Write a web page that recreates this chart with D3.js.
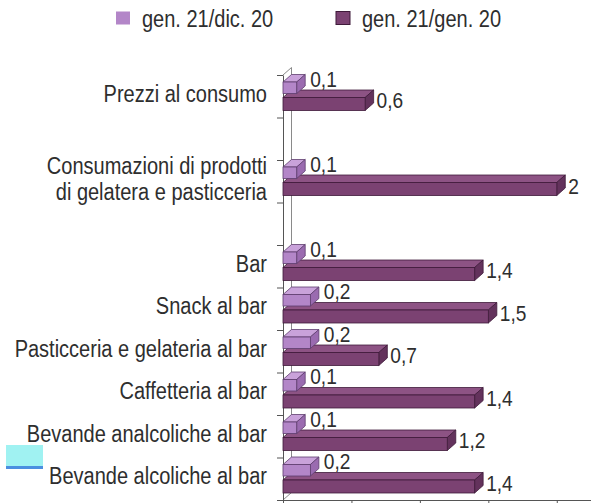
<!DOCTYPE html>
<html>
<head>
<meta charset="utf-8">
<script src="https://cdn.jsdelivr.net/npm/d3@7"></script>
<style>
  body { margin: 0; background: #fff; }
  svg { display: block; font-family: "Liberation Sans", Arial, sans-serif; }
</style>
</head>
<body>
<div id="chart"></div>
<script>
// Categories (blank entries are the empty rows of the original chart)
const categories = [
  "Prezzi al consumo",
  "",
  "Consumazioni di prodotti|di gelatera e pasticceria",
  "",
  "Bar",
  "Snack al bar",
  "Pasticceria e gelateria al bar",
  "Caffetteria al bar",
  "Bevande analcoliche al bar",
  "Bevande alcoliche al bar"
];
const seriesNames = ["gen. 21/dic. 20", "gen. 21/gen. 20"];
const monthlyChange = [0.1, null, 0.1, null, 0.1, 0.2, 0.2, 0.1, 0.1, 0.2];
const yearlyChange = [0.6, null, 2, null, 1.4, 1.5, 0.7, 1.4, 1.2, 1.4];
const xTicks = [0, 0.5, 1, 1.5, 2];

const width = 591, height = 503;
const depth = { dx: 8.5, dy: 7.5 };
const light = { front: "#b386c8", top: "#c9a2da", side: "#9a6bb0", line: "#5e3d6e" };
const dark = { front: "#7b4272", top: "#8d5384", side: "#63325c", line: "#3f1a3a" };
const squeeze = 0.87; // the original type is a condensed face

const itFormat = d3.formatLocale({ decimal: ",", thousands: ".", grouping: [3], currency: ["", "€"] }).format("~g");

const svg = d3.select("#chart").append("svg")
  .attr("width", width)
  .attr("height", height);

// condensed text helper: squeeze horizontally, keep the anchor where asked
function label(g, xPos, yPos, txt) {
  return g.append("text")
    .attr("transform", `scale(${squeeze},1)`)
    .attr("x", xPos / squeeze)
    .attr("y", yPos)
    .attr("dominant-baseline", "central")
    .text(txt);
}

// stray cyan patch at the left edge of the original image
svg.append("rect").attr("x", 6).attr("y", 445).attr("width", 37).attr("height", 21).attr("fill", "#a0f2f2");
svg.append("rect").attr("x", 6).attr("y", 466).attr("width", 37).attr("height", 3).attr("fill", "#4a8fe0");

const x = d3.scaleLinear().domain([0, 2.25]).range([283, 591]);
const y = d3.scaleBand().domain(d3.range(categories.length)).range([75, 500]);
const yEdge = d3.scaleLinear().domain([0, categories.length]).range([75, 500]);

// back wall of the 3D frame
const wall = svg.append("g").attr("stroke", "#8a8a8a").attr("fill", "none").attr("stroke-width", 1);
wall.append("line")
  .attr("x1", x(0) + depth.dx).attr("x2", x(0) + depth.dx)
  .attr("y1", yEdge(0) - depth.dy).attr("y2", yEdge(categories.length) - depth.dy);
wall.append("line")
  .attr("x1", x(0)).attr("y1", yEdge(0))
  .attr("x2", x(0) + depth.dx).attr("y2", yEdge(0) - depth.dy);
wall.append("line")
  .attr("x1", x(0)).attr("y1", yEdge(categories.length))
  .attr("x2", x(0) + depth.dx).attr("y2", yEdge(categories.length) - depth.dy);

// axes
const xAxis = svg.append("g")
  .attr("transform", `translate(0,${yEdge(categories.length)})`)
  .call(d3.axisBottom(x).tickValues(xTicks).tickFormat("").tickSize(7).tickSizeOuter(0));
const yAxis = svg.append("g")
  .attr("transform", `translate(${x(0)},0)`)
  .call(d3.axisLeft(yEdge).tickValues(d3.range(categories.length + 1)).tickFormat("").tickSize(6).tickSizeOuter(0));
[xAxis, yAxis].forEach(a => {
  a.select(".domain").attr("stroke", "#555");
  a.selectAll(".tick line").attr("stroke", "#555");
});

function bar3d(g, v, yTop, h, c) {
  const x0 = x(0), x1 = x(v);
  const { dx, dy } = depth;
  g.append("polygon")
    .attr("points", [[x0, yTop], [x0 + dx, yTop - dy], [x1 + dx, yTop - dy], [x1, yTop]].join(" "))
    .attr("fill", c.top).attr("stroke", c.line).attr("stroke-width", 0.8);
  g.append("polygon")
    .attr("points", [[x1, yTop], [x1 + dx, yTop - dy], [x1 + dx, yTop + h - dy], [x1, yTop + h]].join(" "))
    .attr("fill", c.side).attr("stroke", c.line).attr("stroke-width", 0.8);
  g.append("rect")
    .attr("x", x0).attr("y", yTop)
    .attr("width", x1 - x0).attr("height", h)
    .attr("fill", c.front).attr("stroke", c.line).attr("stroke-width", 0.8);
}

const bars = svg.append("g");
const values = svg.append("g").attr("fill", "#2e2e2e").attr("font-size", 22);

categories.forEach((cat, i) => {
  if (yearlyChange[i] == null) return;
  const b = y(i);
  // darker series first, lighter drawn on top
  bar3d(bars, yearlyChange[i], b + 22.5, 13, dark);
  bar3d(bars, monthlyChange[i], b + 7, 11.5, light);

  label(values, x(monthlyChange[i]) + depth.dx + 5, b + 4, itFormat(monthlyChange[i]));
  label(values, x(yearlyChange[i]) + depth.dx + 3, b + 25.5, itFormat(yearlyChange[i]));
});

// category labels
const catLabels = svg.append("g")
  .attr("fill", "#2e2e2e")
  .attr("font-size", 23)
  .attr("text-anchor", "end");
categories.forEach((cat, i) => {
  if (!cat) return;
  const lines = cat.split("|");
  const cy = y(i) + y.bandwidth() / 2 - 2.5;
  lines.forEach((ln, k) => {
    label(catLabels, 267, cy + (k - (lines.length - 1) / 2) * 26, ln);
  });
});

// legend
const legend = svg.append("g").attr("font-size", 23).attr("fill", "#2e2e2e");
const legendX = [116, 336];
[light, dark].forEach((c, i) => {
  legend.append("rect")
    .attr("x", legendX[i]).attr("y", 11.5)
    .attr("width", 14).attr("height", 13)
    .attr("fill", c.front)
    .attr("stroke", i === 1 ? c.line : "none");
  label(legend, legendX[i] + 26, 19, seriesNames[i]);
});
</script>
</body>
</html>
